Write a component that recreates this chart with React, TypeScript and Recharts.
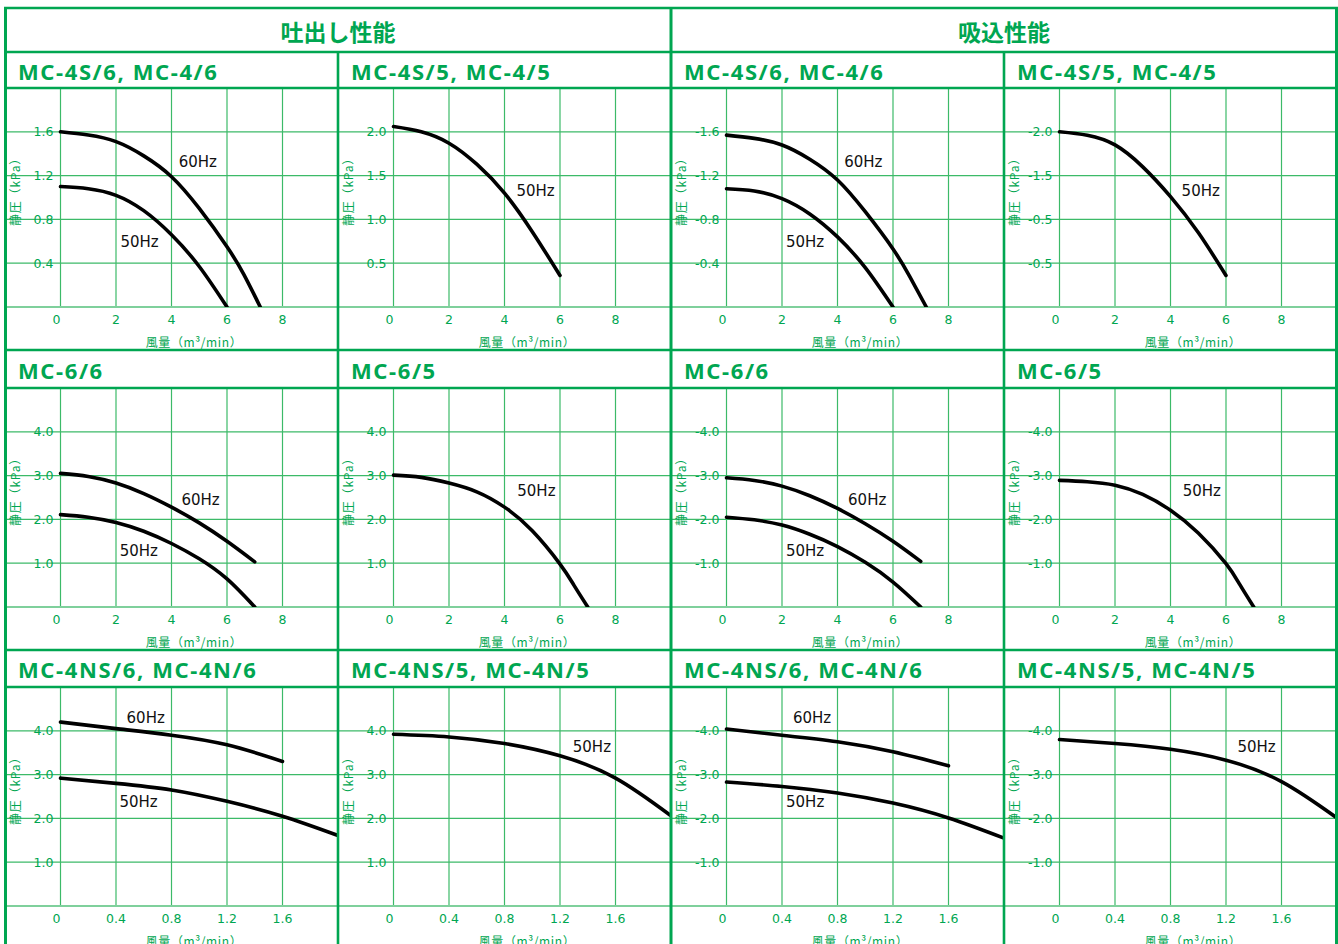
import { LineChart, Line, XAxis, YAxis, CartesianGrid, ReferenceLine, ReferenceDot } from "recharts";

// ---- data (静圧 kPa vs 風量 m3/min), suction side stored as magnitudes ----
const flowA = [0, 1, 2, 3, 4, 5, 6];
const flowB = [0, 1, 2, 3, 4, 5, 6, 6.6, 7.2];
const flowC = [0, 1, 2, 3, 4, 5, 6, 7];
const flowD = [0, 1, 2, 3, 4, 5, 6, 6.5, 7];
const flowN5 = [0, 0.4, 0.8, 1.2, 1.6, 2.0];
const flowN4 = [0, 0.4, 0.8, 1.2, 1.6];

const dis4s6_60 = [1.6, 1.57, 1.51, 1.38, 1.19, 0.9, 0.55, 0.3, 0];
const dis4s6_50 = [1.1, 1.08, 1.02, 0.88, 0.66, 0.37, 0];
const dis4s5_50 = [2.06, 2.0, 1.87, 1.63, 1.3, 0.86, 0.36];
const suc4s6_60 = [1.57, 1.54, 1.48, 1.35, 1.16, 0.87, 0.53, 0.28, 0];
const suc4s6_50 = [1.08, 1.06, 0.99, 0.85, 0.64, 0.36, 0];
const suc4s5_50 = [2.0, 1.96, 1.85, 1.6, 1.26, 0.85, 0.36];

const dis66_60 = [3.05, 2.98, 2.83, 2.59, 2.28, 1.92, 1.5, 1.03];
const dis66_50 = [2.11, 2.05, 1.93, 1.73, 1.45, 1.1, 0.64, 0];
const dis65_50 = [3.01, 2.96, 2.83, 2.63, 2.28, 1.74, 0.98, 0.5, 0];
const suc66_60 = [2.95, 2.89, 2.76, 2.54, 2.25, 1.9, 1.5, 1.04];
const suc66_50 = [2.05, 1.99, 1.87, 1.66, 1.38, 1.02, 0.57, 0];
const suc65_50 = [2.89, 2.86, 2.78, 2.57, 2.21, 1.69, 0.99, 0.51, 0];

const dis4n6_60 = [4.2, 4.05, 3.9, 3.68, 3.3];
const dis4n6_50 = [2.92, 2.8, 2.65, 2.39, 2.05, 1.61];
const dis4n5_50 = [3.92, 3.86, 3.71, 3.43, 2.92, 2.06];
const suc4n6_60 = [4.04, 3.9, 3.75, 3.52, 3.2];
const suc4n6_50 = [2.83, 2.73, 2.58, 2.35, 2.01, 1.55];
const suc4n5_50 = [3.8, 3.71, 3.58, 3.33, 2.84, 2.01];

// ---- ticks ----
const xTicksWide = [0, 2, 4, 6, 8];
const xTicksNarrow = [0, 0.4, 0.8, 1.2, 1.6];
const xLabelsNarrow = ["0", "0.4", "0.8", "1.2", "1.6"];

const yTicks4 = [0, 0.4, 0.8, 1.2, 1.6];
const yTicks5 = [0, 0.5, 1.0, 1.5, 2.0];
const yTicksBig = [0, 1, 2, 3, 4];
const yLabels4Dis = ["", "0.4", "0.8", "1.2", "1.6"];
const yLabels4Suc = ["", "-0.4", "-0.8", "-1.2", "-1.6"];
const yLabels5Dis = ["", "0.5", "1.0", "1.5", "2.0"];
const yLabels5Suc = ["", "-0.5", "-0.5", "-1.5", "-2.0"];
const yLabelsBigDis = ["", "1.0", "2.0", "3.0", "4.0"];
const yLabelsBigSuc = ["", "-1.0", "-2.0", "-3.0", "-4.0"];

// ---- layout ----
const GREEN = "#00a651";
const GRID = "#3cba68";
const BASE = "#7fd09c";
const W = 333;
const PLOT_H = 219;
const AXIS_H = 43;
const COLS = [5, 338, 671, 1004];
const ROW_TOP = [88, 388, 687];
const TITLE_MID = [71, 370, 669];

type Curve = { xs: number[]; ys: number[]; hz: string; lx: number; ly: number };
type PanelDef = {
  title: string;
  row: number;
  col: number;
  xDomain: [number, number];
  xTicks: number[];
  xLabels?: string[];
  yMax: number;
  yTicks: number[];
  yLabels: string[];
  curves: Curve[];
};

const wide: [number, number] = [-2, 10];
const narrow: [number, number] = [-0.4, 2.0];

const panels: PanelDef[] = [
  {
    title: "MC-4S/6, MC-4/6", row: 0, col: 0, xDomain: wide, xTicks: xTicksWide, yMax: 2.0,
    yTicks: yTicks4, yLabels: yLabels4Dis,
    curves: [
      { xs: flowB, ys: dis4s6_60, hz: "60Hz", lx: 4.95, ly: 1.33 },
      { xs: flowA, ys: dis4s6_50, hz: "50Hz", lx: 2.85, ly: 0.6 },
    ],
  },
  {
    title: "MC-4S/5, MC-4/5", row: 0, col: 1, xDomain: wide, xTicks: xTicksWide, yMax: 2.5,
    yTicks: yTicks5, yLabels: yLabels5Dis,
    curves: [{ xs: flowA, ys: dis4s5_50, hz: "50Hz", lx: 5.12, ly: 1.33 }],
  },
  {
    title: "MC-4S/6, MC-4/6", row: 0, col: 2, xDomain: wide, xTicks: xTicksWide, yMax: 2.0,
    yTicks: yTicks4, yLabels: yLabels4Suc,
    curves: [
      { xs: flowB, ys: suc4s6_60, hz: "60Hz", lx: 4.93, ly: 1.33 },
      { xs: flowA, ys: suc4s6_50, hz: "50Hz", lx: 2.83, ly: 0.6 },
    ],
  },
  {
    title: "MC-4S/5, MC-4/5", row: 0, col: 3, xDomain: wide, xTicks: xTicksWide, yMax: 2.5,
    yTicks: yTicks5, yLabels: yLabels5Suc,
    curves: [{ xs: flowA, ys: suc4s5_50, hz: "50Hz", lx: 5.09, ly: 1.33 }],
  },
  {
    title: "MC-6/6", row: 1, col: 0, xDomain: wide, xTicks: xTicksWide, yMax: 5,
    yTicks: yTicksBig, yLabels: yLabelsBigDis,
    curves: [
      { xs: flowC, ys: dis66_60, hz: "60Hz", lx: 5.05, ly: 2.46 },
      { xs: flowC, ys: dis66_50, hz: "50Hz", lx: 2.82, ly: 1.29 },
    ],
  },
  {
    title: "MC-6/5", row: 1, col: 1, xDomain: wide, xTicks: xTicksWide, yMax: 5,
    yTicks: yTicksBig, yLabels: yLabelsBigDis,
    curves: [{ xs: flowD, ys: dis65_50, hz: "50Hz", lx: 5.15, ly: 2.66 }],
  },
  {
    title: "MC-6/6", row: 1, col: 2, xDomain: wide, xTicks: xTicksWide, yMax: 5,
    yTicks: yTicksBig, yLabels: yLabelsBigSuc,
    curves: [
      { xs: flowC, ys: suc66_60, hz: "60Hz", lx: 5.07, ly: 2.46 },
      { xs: flowC, ys: suc66_50, hz: "50Hz", lx: 2.83, ly: 1.29 },
    ],
  },
  {
    title: "MC-6/5", row: 1, col: 3, xDomain: wide, xTicks: xTicksWide, yMax: 5,
    yTicks: yTicksBig, yLabels: yLabelsBigSuc,
    curves: [{ xs: flowD, ys: suc65_50, hz: "50Hz", lx: 5.13, ly: 2.66 }],
  },
  {
    title: "MC-4NS/6, MC-4N/6", row: 2, col: 0, xDomain: narrow, xTicks: xTicksNarrow, xLabels: xLabelsNarrow,
    yMax: 5, yTicks: yTicksBig, yLabels: yLabelsBigDis,
    curves: [
      { xs: flowN4, ys: dis4n6_60, hz: "60Hz", lx: 0.614, ly: 4.31 },
      { xs: flowN5, ys: dis4n6_50, hz: "50Hz", lx: 0.563, ly: 2.38 },
    ],
  },
  {
    title: "MC-4NS/5, MC-4N/5", row: 2, col: 1, xDomain: narrow, xTicks: xTicksNarrow, xLabels: xLabelsNarrow,
    yMax: 5, yTicks: yTicksBig, yLabels: yLabelsBigDis,
    curves: [{ xs: flowN5, ys: dis4n5_50, hz: "50Hz", lx: 1.43, ly: 3.63 }],
  },
  {
    title: "MC-4NS/6, MC-4N/6", row: 2, col: 2, xDomain: narrow, xTicks: xTicksNarrow, xLabels: xLabelsNarrow,
    yMax: 5, yTicks: yTicksBig, yLabels: yLabelsBigSuc,
    curves: [
      { xs: flowN4, ys: suc4n6_60, hz: "60Hz", lx: 0.617, ly: 4.31 },
      { xs: flowN5, ys: suc4n6_50, hz: "50Hz", lx: 0.567, ly: 2.38 },
    ],
  },
  {
    title: "MC-4NS/5, MC-4N/5", row: 2, col: 3, xDomain: narrow, xTicks: xTicksNarrow, xLabels: xLabelsNarrow,
    yMax: 5, yTicks: yTicksBig, yLabels: yLabelsBigSuc,
    curves: [{ xs: flowN5, ys: suc4n5_50, hz: "50Hz", lx: 1.42, ly: 3.63 }],
  },
];

const TICK_FONT = "'DejaVu Sans', sans-serif";
const TITLE_FONT = "'Noto Sans', sans-serif";
const JP_FONT = "'Noto Sans CJK JP', sans-serif";

function Panel({ p }: { p: PanelDef }) {
  const [x0, x1] = p.xDomain;
  const originPx = (W * (0 - x0)) / (x1 - x0);

  const renderXTick = (props: any) => {
    const v = props.payload.value;
    const i = p.xTicks.indexOf(v);
    const text = p.xLabels ? p.xLabels[i] : String(v);
    return (
      <text x={props.x + (v === 0 ? -4 : 0)} y={props.y + 12} textAnchor="middle" dominantBaseline="central"
        fill={GREEN} fontSize={12.5} fontFamily={TICK_FONT}>
        {text}
      </text>
    );
  };

  const yTickLabel = (text: string) => (lp: any) => {
    const vb = lp.viewBox || {};
    if (!text) return null;
    return (
      <text x={vb.x + originPx - 7} y={vb.y} textAnchor="end" dominantBaseline="central"
        fill={GREEN} fontSize={12.5} fontFamily={TICK_FONT}>
        {text}
      </text>
    );
  };

  return (
    <div style={{ position: "absolute", left: COLS[p.col], top: ROW_TOP[p.row] }}>
      <LineChart width={W} height={PLOT_H + AXIS_H} margin={{ top: 0, right: 0, bottom: 0, left: 0 }}>
        <CartesianGrid stroke={GRID} strokeWidth={1.2} horizontal={false} />
        <XAxis type="number" dataKey="x" domain={p.xDomain} ticks={p.xTicks} interval={0} allowDataOverflow
          axisLine={false} tickLine={false} tickSize={0} tickMargin={0} height={AXIS_H} tick={renderXTick} />
        <YAxis type="number" domain={[0, p.yMax]} ticks={p.yTicks} allowDataOverflow
          width={0} axisLine={false} tickLine={false} tick={false} />
        {p.yTicks.map((v, i) => (
          <ReferenceLine key={"g" + v} y={v} stroke={v === 0 ? BASE : GRID} strokeWidth={v === 0 ? 2.2 : 1.2}
            label={yTickLabel(p.yLabels[i])} />
        ))}
        {p.curves.map((c, k) => (
          <Line key={k} data={c.xs.map((x, i) => ({ x, y: c.ys[i] }))} dataKey="y" type="natural"
            stroke="#000" strokeWidth={3.6} strokeLinecap="round" dot={false} activeDot={false}
            isAnimationActive={false} />
        ))}
        {p.curves.map((c, k) => (
          <ReferenceDot key={"l" + k} x={c.lx} y={c.ly} r={1} fill="none" stroke="none"
            label={{ value: c.hz, position: "center", fill: "#111", fontSize: 15, fontFamily: TICK_FONT }} />
        ))}
      </LineChart>
    </div>
  );
}

export default function App() {
  const hLines = [8, 52, 88, 350, 388, 650, 687];
  return (
    <div style={{ position: "absolute", left: 0, top: 0, width: 1338, height: 944, overflow: "hidden", background: "#fff" }}>
      {panels.map((p, i) => (
        <Panel key={i} p={p} />
      ))}
      <svg width={1338} height={944} style={{ position: "absolute", left: 0, top: 0, pointerEvents: "none" }}>
        {hLines.map((y) => (
          <line key={y} x1={4} x2={1338} y1={y} y2={y} stroke={GREEN} strokeWidth={2.6} />
        ))}
        <line x1={5.5} x2={5.5} y1={7} y2={944} stroke={GREEN} strokeWidth={3} />
        <line x1={671} x2={671} y1={7} y2={944} stroke={GREEN} strokeWidth={3} />
        <line x1={1336.5} x2={1336.5} y1={7} y2={944} stroke={GREEN} strokeWidth={3} />
        <line x1={338} x2={338} y1={52} y2={944} stroke={GREEN} strokeWidth={2.6} />
        <line x1={1004} x2={1004} y1={52} y2={944} stroke={GREEN} strokeWidth={2.6} />

        <text x={338} y={31} textAnchor="middle" dominantBaseline="central" fill={GREEN}
          fontSize={23} fontWeight={700} fontFamily={JP_FONT}>吐出し性能</text>
        <text x={1004} y={31} textAnchor="middle" dominantBaseline="central" fill={GREEN}
          fontSize={23} fontWeight={700} fontFamily={JP_FONT}>吸込性能</text>

        {panels.map((p, i) => {
          const left = COLS[p.col];
          const top = ROW_TOP[p.row];
          return (
            <g key={i}>
              <text x={left + 13} y={TITLE_MID[p.row]} dominantBaseline="central" fill={GREEN}
                fontSize={22} fontWeight={700} letterSpacing={1.6} fontFamily={TITLE_FONT}>{p.title}</text>
              <text transform={`translate(${left + 9},${top + 101}) rotate(-90)`} textAnchor="middle"
                dominantBaseline="central" fill={GREEN} fontSize={12} letterSpacing={0.8}
                fontFamily={JP_FONT}>静圧（kPa）</text>
              <text x={left + 189} y={top + PLOT_H + 34} textAnchor="middle" dominantBaseline="central"
                fill={GREEN} fontSize={12} letterSpacing={0.6} fontFamily={JP_FONT}>風量（m³/min）</text>
            </g>
          );
        })}
      </svg>
    </div>
  );
}
